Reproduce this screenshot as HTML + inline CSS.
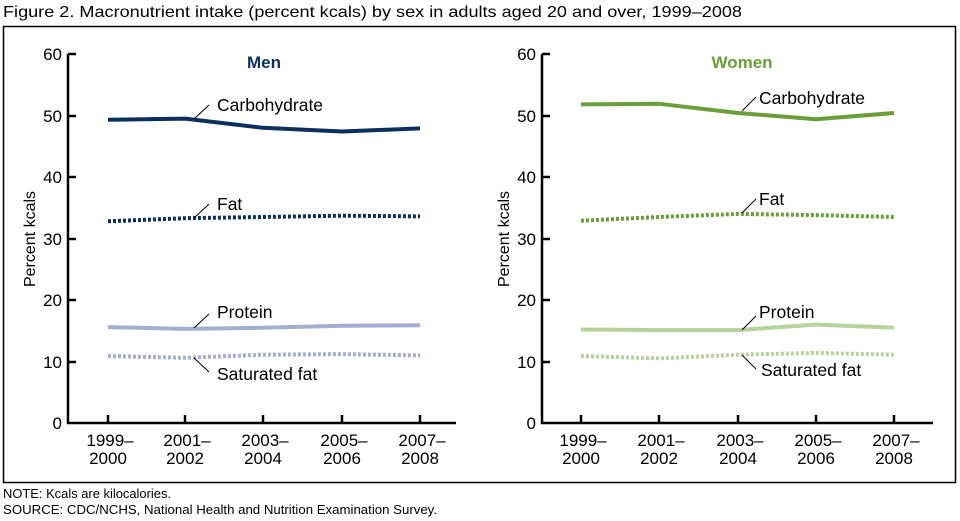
<!DOCTYPE html>
<html><head><meta charset="utf-8"><style>
body{margin:0;background:#fff;}
svg{display:block;font-family:"Liberation Sans",Arial,sans-serif;}
</style></head><body>
<svg width="960" height="521" viewBox="0 0 960 521" xmlns="http://www.w3.org/2000/svg">
<text x="3" y="17" font-size="16" fill="#000" textLength="739" lengthAdjust="spacingAndGlyphs">Figure 2. Macronutrient intake (percent kcals) by sex in adults aged 20 and over, 1999–2008</text>
<rect x="3.5" y="26.5" width="952" height="456" fill="none" stroke="#000" stroke-width="1.5"/>
<text x="3" y="498" font-size="13" textLength="168" lengthAdjust="spacingAndGlyphs">NOTE: Kcals are kilocalories.</text>
<text x="3" y="514" font-size="13" textLength="434" lengthAdjust="spacingAndGlyphs">SOURCE: CDC/NCHS, National Health and Nutrition Examination Survey.</text>

<g stroke="#000" stroke-width="2.5" fill="none">
<path d="M68 54 V423 H456"/>
<path d="M68 54h8M68 116h8M68 177h8M68 239h8M68 300h8M68 362h8"/>
<path d="M108 423v-8M185 423v-8M263 423v-8M342 423v-8M420 423v-8"/>
<path d="M542 54 V423 H933"/>
<path d="M542 54h8M542 116h8M542 177h8M542 239h8M542 300h8M542 362h8"/>
<path d="M581 423v-8M659 423v-8M738 423v-8M816 423v-8M894 423v-8"/>
</g>
<g font-size="17" text-anchor="end">
<text x="62" y="60">60</text><text x="62" y="122">50</text><text x="62" y="183">40</text><text x="62" y="245">30</text><text x="62" y="306">20</text><text x="62" y="368">10</text><text x="62" y="429">0</text>
<text x="536" y="60">60</text><text x="536" y="122">50</text><text x="536" y="183">40</text><text x="536" y="245">30</text><text x="536" y="306">20</text><text x="536" y="368">10</text><text x="536" y="429">0</text>
</g>
<text transform="translate(35 239) rotate(-90)" font-size="16" text-anchor="middle">Percent kcals</text>
<text transform="translate(509 239) rotate(-90)" font-size="16" text-anchor="middle">Percent kcals</text>
<g font-size="17" text-anchor="middle">
<text x="110" y="446">1999–</text><text x="108" y="464">2000</text>
<text x="187" y="446">2001–</text><text x="185" y="464">2002</text>
<text x="265" y="446">2003–</text><text x="263" y="464">2004</text>
<text x="344" y="446">2005–</text><text x="342" y="464">2006</text>
<text x="422" y="446">2007–</text><text x="420" y="464">2008</text>
<text x="583" y="446">1999–</text><text x="581" y="464">2000</text>
<text x="661" y="446">2001–</text><text x="659" y="464">2002</text>
<text x="740" y="446">2003–</text><text x="738" y="464">2004</text>
<text x="818" y="446">2005–</text><text x="816" y="464">2006</text>
<text x="896" y="446">2007–</text><text x="894" y="464">2008</text>
</g>
<text x="264" y="68" font-size="17" font-weight="bold" fill="#0b2f5e" text-anchor="middle">Men</text>
<text x="742" y="68" font-size="17" font-weight="bold" fill="#6a9e38" text-anchor="middle">Women</text>

<g fill="none" stroke-width="4" stroke-linejoin="round">
<polyline stroke="#0b2f5e" points="108,119.8 185,118.6 263,127.8 342,131.5 420,128.4"/>
<polyline stroke="#0b2f5e" stroke-dasharray="3,2" points="108,221.3 185,218.2 263,217 342,215.7 420,216.4"/>
<polyline stroke="#a3aed0" points="108,327.1 185,328.9 263,327.7 342,325.8 420,325.2"/>
<polyline stroke="#a3aed0" stroke-dasharray="3,2" points="108,356 185,357.8 263,354.7 342,354.1 420,355.4"/>
<polyline stroke="#6a9e38" points="581,104.4 659,103.8 738,113 816,119.2 894,113"/>
<polyline stroke="#6a9e38" stroke-dasharray="3,2" points="581,220.7 659,217 738,213.9 816,215.1 894,217"/>
<polyline stroke="#b5d39a" points="581,329.5 659,330.1 738,330.1 816,324.6 894,327.7"/>
<polyline stroke="#b5d39a" stroke-dasharray="3,2" points="581,356 659,358.4 738,354.7 816,352.9 894,354.7"/>
</g>
<g stroke="#000" stroke-width="1">
<path d="M194 119 L209 105M194 218 L209 204M194 328 L209 314M194 358 L209 372"/>
<path d="M742 111 L756 97M742 213 L756 199M742 330 L756 316M742 355 L756 369"/>
</g>
<g font-size="17.5">
<text x="217" y="111">Carbohydrate</text><text x="217" y="210">Fat</text><text x="217" y="318">Protein</text><text x="217" y="380">Saturated fat</text>
<text x="759" y="104">Carbohydrate</text><text x="759" y="205">Fat</text><text x="759" y="318">Protein</text><text x="761" y="376">Saturated fat</text>
</g>
</svg>
</body></html>
